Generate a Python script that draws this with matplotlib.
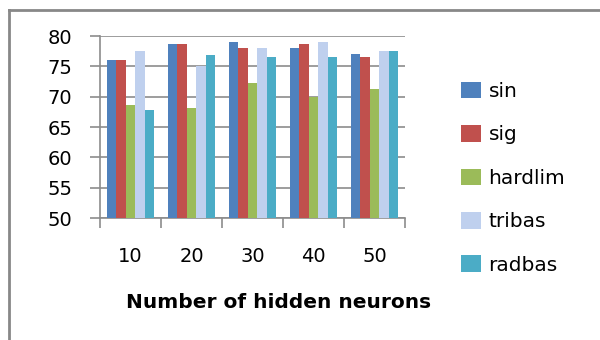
import numpy as np
import matplotlib
matplotlib.use("Agg")
import matplotlib.pyplot as plt
from matplotlib.lines import Line2D

neurons = ["10", "20", "30", "40", "50"]
sin = [76.0, 78.6, 79.0, 78.0, 77.0]
sig = [76.0, 78.6, 78.0, 78.6, 76.5]
hardlim = [68.6, 68.1, 72.2, 69.9, 71.3]
tribas = [77.5, 75.0, 78.0, 79.0, 77.5]
radbas = [67.8, 76.9, 76.5, 76.5, 77.5]

names = ["sin", "sig", "hardlim", "tribas", "radbas"]
series = [sin, sig, hardlim, tribas, radbas]
colors = ["#4F81BD", "#C0504D", "#9BBB59", "#BFD0EE", "#4BACC6"]

grid_col = "#8c8c8c"

fig = plt.figure(figsize=(6, 3.4), dpi=100)
ax = fig.add_axes([0.1667, 0.3588, 0.5083, 0.5353])

x = np.arange(len(neurons))
width = 0.157
for i in range(len(series)):
	ax.bar(x + (i - 2) * width, series[i], width, color=colors[i], label=names[i],
		linewidth=0, zorder=3)

ax.set_xlim(-0.5, len(neurons) - 0.5)
ax.set_ylim(50, 80)
ax.set_yticks(np.arange(50, 81, 5))
ax.yaxis.grid(True, color=grid_col, linewidth=1.2, zorder=0)

ax.set_xticks(x)
ax.set_xticklabels(neurons)
ax.set_xticks(np.arange(-0.5, len(neurons)), minor=True)
ax.tick_params(axis='x', which='major', length=0, pad=21, labelsize=14)
ax.tick_params(axis='x', which='minor', length=7, width=1.2, color=grid_col)
ax.tick_params(axis='y', length=7, width=1.2, color=grid_col, pad=13, labelsize=14)

for s in ["top", "right"]:
	ax.spines[s].set_visible(False)
for s in ["left", "bottom"]:
	ax.spines[s].set_color(grid_col)
	ax.spines[s].set_linewidth(1.2)

fig.text(0.465, 0.109, "Number of hidden neurons", fontsize=14.5, fontweight='bold',
	ha='center', va='center')

legend = fig.legend(loc='center left', bbox_to_anchor=(0.752, 0.476), frameon=False,
	fontsize=14.5, handlelength=1.0, handleheight=0.9, handletextpad=0.35,
	labelspacing=1.2, borderpad=0)

# outer frame of the picture (left and top only)
fig.add_artist(Line2D([0.015, 0.015], [0.0, 0.971], color="#888888", linewidth=2))
fig.add_artist(Line2D([0.015, 1.0], [0.971, 0.971], color="#888888", linewidth=2))

plt.savefig("out.png", dpi=100)
